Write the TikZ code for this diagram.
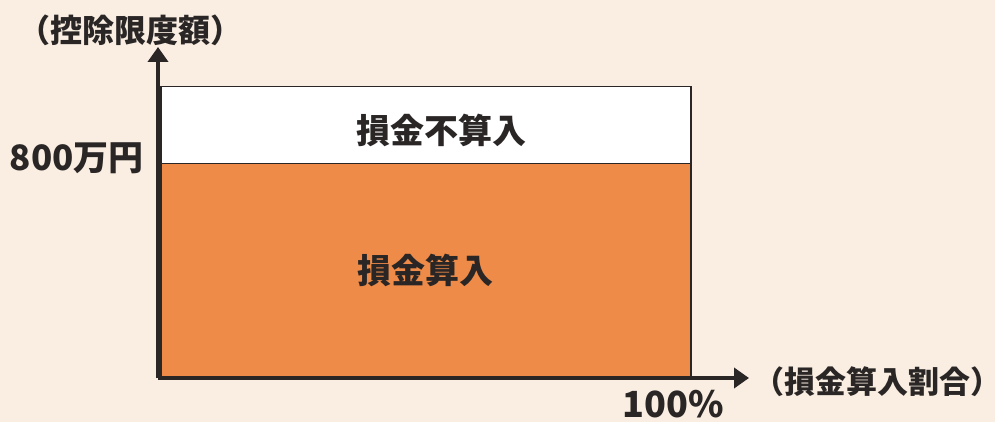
\documentclass[tikz,border=0pt]{standalone}
\usepackage{fontspec}
\usepackage{tikz}
\usetikzlibrary{arrows.meta}
\newfontfamily\jpfont{Noto Sans CJK JP}
\definecolor{paper}{HTML}{F9EEE1}
\definecolor{sonkin}{HTML}{EE8B48}
\definecolor{ink}{HTML}{2A2626}

\begin{document}
\begin{tikzpicture}[x=1pt,y=-1pt,
  axis line/.style={draw=ink,line width=4.5pt,-{Triangle[length=15pt,width=20pt]}},
  area box/.style={draw=ink,line width=1.5pt,anchor=north west,inner sep=0pt},
  label text/.style={text=ink,font=\jpfont\bfseries\fontsize{32}{34}\selectfont,inner sep=0pt}]
\fill[paper] (0,0) rectangle (995,422);
\useasboundingbox (0,0) rectangle (995,422);

\node[area box,fill=white,minimum width=530pt,minimum height=77pt] (fuzan) at (160,86) {};
\node[area box,fill=sonkin,minimum width=530pt,minimum height=214pt] (san) at (160,163) {};

\coordinate (o) at (158,378);
\coordinate (ytip) at (158,47);
\coordinate (xtip) at (749,378);
\draw[axis line] (o) -- (ytip);
\draw[axis line] (o) -- (xtip);

\node[label text] (ylab) at (130,30) {（控除限度額）};
\node[label text,anchor=east,font=\jpfont\bfseries\fontsize{35}{37}\selectfont] (amount) at (144,158) {800万円};
\node[label text,font=\jpfont\bfseries\fontsize{34}{36}\selectfont] (t1) at (441,130) {損金不算入};
\node[label text,font=\jpfont\bfseries\fontsize{34}{36}\selectfont] (t2) at (425,270) {損金算入};
\node[label text,anchor=west,font=\jpfont\bfseries\fontsize{31}{33}\selectfont] (xlab) at (753,382) {（損金算入割合）};
\node[label text,font=\jpfont\bfseries\fontsize{36}{38}\selectfont] (full) at (673,404) {100\%};
\end{tikzpicture}
\end{document}
